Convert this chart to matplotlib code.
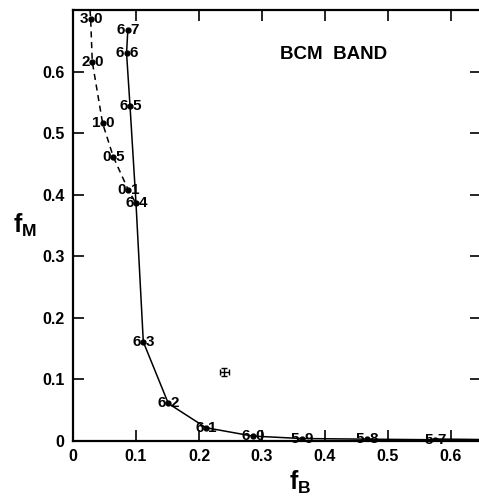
import numpy as np
import matplotlib
matplotlib.use("Agg")
import matplotlib.pyplot as plt

plt.rcParams['font.family'] = ['Liberation Sans', 'DejaVu Sans']
plt.rcParams['font.weight'] = 'bold'
plt.rcParams['mathtext.fontset'] = 'custom'
plt.rcParams['mathtext.it'] = 'Liberation Sans:bold'
plt.rcParams['mathtext.rm'] = 'Liberation Sans:bold'
plt.rcParams['mathtext.bf'] = 'Liberation Sans:bold'

# solid curve, labelled by mass value
mass_labels = ['6.7', '6.6', '6.5', '6.4', '6.3', '6.2', '6.1', '6.0', '5.9', '5.8', '5.7']
mass_fb = [0.087, 0.085, 0.0905, 0.100, 0.1116, 0.1513, 0.211, 0.285, 0.363, 0.466, 0.575]
mass_fm = [0.667, 0.630, 0.544, 0.386, 0.161, 0.061, 0.0216, 0.008, 0.004, 0.003, 0.002]
# tail of the solid curve running off the right edge
tail_fb = [0.575, 0.66]
tail_fm = [0.002, 0.001]

# dashed curve
dash_labels = ['3.0', '2.0', '1.0', '0.5', '0.1']
dash_fb = [0.028, 0.0306, 0.047, 0.064, 0.0878]
dash_fm = [0.686, 0.616, 0.516, 0.4615, 0.4075]
# dashed curve runs up to the frame and down to the 6.4 point
dash_top = (0.027, 0.70)

# measured point
meas_fb, meas_fm = 0.240, 0.1115
meas_xerr, meas_yerr = 0.007, 0.0065

xticks = [0, 0.1, 0.2, 0.3, 0.4, 0.5, 0.6]
yticks = [0, 0.1, 0.2, 0.3, 0.4, 0.5, 0.6]

fig = plt.figure(figsize=(4.79, 5.0), dpi=100)
ax = fig.add_axes([73 / 479, 59 / 500, (481 - 73) / 479, 431 / 500])

ax.plot(mass_fb, mass_fm, color='black', lw=1.1)
ax.plot(tail_fb, tail_fm, color='black', lw=2.2)
ax.plot(mass_fb, mass_fm, 'o', color='black', ms=3.5)

dx = [dash_top[0]] + dash_fb + [mass_fb[3]]
dy = [dash_top[1]] + dash_fm + [mass_fm[3]]
ax.plot(dx, dy, color='black', lw=1.1, ls=(0, (4, 3)))
ax.plot(dash_fb, dash_fm, 'o', color='black', ms=3.5)

for lab, x, y in list(zip(mass_labels, mass_fb, mass_fm)) + list(zip(dash_labels, dash_fb, dash_fm)):
    a, b = lab.split('.')
    ax.annotate(a, (x, y), xytext=(-1.8, 0), textcoords='offset points',
                ha='right', va='center', fontsize=11, fontweight='bold')
    ax.annotate(b, (x, y), xytext=(1.8, 0), textcoords='offset points',
                ha='left', va='center', fontsize=11, fontweight='bold')

ax.errorbar([meas_fb], [meas_fm], xerr=[meas_xerr], yerr=[meas_yerr],
            fmt='none', ecolor='black', elinewidth=1, capsize=2)

ax.text(0.329, 0.627, 'BCM  BAND', fontsize=13.5, fontweight='bold', ha='left', va='center')

ax.set_xlim(0, 0.6476)
ax.set_ylim(0, 0.70)
ax.set_xticks(xticks)
ax.set_yticks(yticks)
ax.set_xticklabels(['0' if v == 0 else '%.1f' % v for v in xticks])
ax.set_yticklabels(['0' if v == 0 else '%.1f' % v for v in yticks])
ax.tick_params(direction='in', length=8, width=1.2, top=True, right=True,
               labelsize=11.5, pad=6)
for s in ax.spines.values():
    s.set_linewidth(1.6)

ax.set_xlabel(r'$f_B$', fontsize=18, va='center', ha='center')
ax.set_ylabel(r'$f_M$', fontsize=18, rotation=0, va='center', ha='center')
ax.xaxis.set_label_coords((300 - 73) / 408, -0.097)
ax.yaxis.set_label_coords((25 - 73) / 408, 0.50)

fig.savefig('out.png', dpi=100)
